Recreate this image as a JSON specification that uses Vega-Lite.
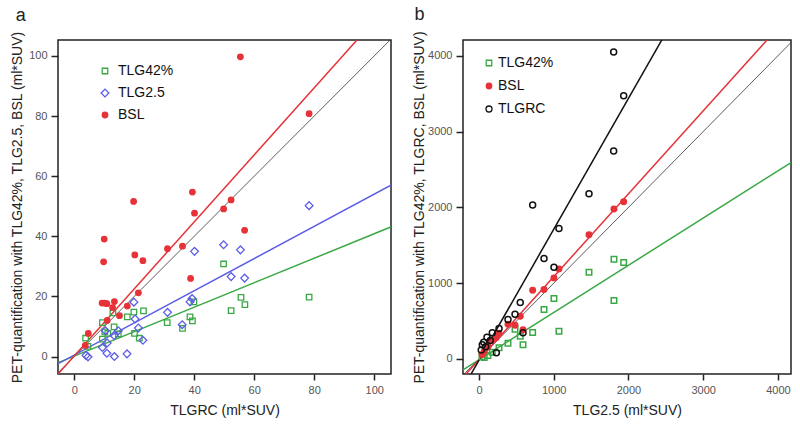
{
  "$schema": "https://vega.github.io/schema/vega-lite/v6.json",
  "padding": {"left": 9, "top": 5, "right": 5, "bottom": 5},
  "background": "white",
  "config": {
    "font": "Liberation Sans",
    "view": {"stroke": "#222", "strokeWidth": 1.5},
    "axis": {"grid": false, "domain": false, "tickColor": "#222", "tickWidth": 1.5, "tickSize": 6, "labelFontSize": 11, "labelColor": "#555", "labelFont": "Liberation Sans", "titleFont": "Liberation Sans", "titleFontSize": 14, "titleFontWeight": "normal", "titleColor": "#222", "labelPadding": 3},
    "legend": {"labelFontSize": 14, "labelColor": "#111", "labelFont": "Liberation Sans", "padding": 0, "rowPadding": 8, "labelOffset": 6, "symbolStrokeWidth": 1.3}
  },
  "datasets": {
    "a_pts": [
      {"x": 3.8, "y": 6.1, "series": "TLG42%"}, {"x": 4.6, "y": 3.4, "series": "TLG42%"}, {"x": 9.4, "y": 5.8, "series": "TLG42%"}, {"x": 9.4, "y": 11.3, "series": "TLG42%"}, {"x": 10.2, "y": 8.2, "series": "TLG42%"}, {"x": 11.2, "y": 7.7, "series": "TLG42%"}, {"x": 12.9, "y": 14.5, "series": "TLG42%"}, {"x": 13.3, "y": 9.9, "series": "TLG42%"}, {"x": 14.7, "y": 7.5, "series": "TLG42%"}, {"x": 17.7, "y": 13.2, "series": "TLG42%"}, {"x": 19.9, "y": 14.8, "series": "TLG42%"}, {"x": 20.1, "y": 7.7, "series": "TLG42%"}, {"x": 21.7, "y": 6.1, "series": "TLG42%"}, {"x": 23.1, "y": 15.2, "series": "TLG42%"}, {"x": 31.0, "y": 11.3, "series": "TLG42%"}, {"x": 36.1, "y": 9.4, "series": "TLG42%"}, {"x": 38.6, "y": 13.2, "series": "TLG42%"}, {"x": 39.4, "y": 11.9, "series": "TLG42%"}, {"x": 39.9, "y": 18.2, "series": "TLG42%"}, {"x": 49.8, "y": 30.8, "series": "TLG42%"}, {"x": 52.3, "y": 15.3, "series": "TLG42%"}, {"x": 55.6, "y": 19.7, "series": "TLG42%"}, {"x": 56.9, "y": 17.3, "series": "TLG42%"}, {"x": 78.3, "y": 19.8, "series": "TLG42%"},
      {"x": 3.9, "y": 0.4, "series": "TLG2.5"}, {"x": 4.6, "y": -0.1, "series": "TLG2.5"}, {"x": 9.4, "y": 3.0, "series": "TLG2.5"}, {"x": 10.4, "y": 8.6, "series": "TLG2.5"}, {"x": 10.9, "y": 1.1, "series": "TLG2.5"}, {"x": 11.0, "y": 4.5, "series": "TLG2.5"}, {"x": 13.3, "y": 7.0, "series": "TLG2.5"}, {"x": 13.4, "y": 0.0, "series": "TLG2.5"}, {"x": 14.7, "y": 8.6, "series": "TLG2.5"}, {"x": 17.6, "y": 0.9, "series": "TLG2.5"}, {"x": 19.9, "y": 18.1, "series": "TLG2.5"}, {"x": 20.3, "y": 12.5, "series": "TLG2.5"}, {"x": 21.4, "y": 9.5, "series": "TLG2.5"}, {"x": 22.9, "y": 5.4, "series": "TLG2.5"}, {"x": 31.1, "y": 14.7, "series": "TLG2.5"}, {"x": 36.0, "y": 10.6, "series": "TLG2.5"}, {"x": 38.6, "y": 18.2, "series": "TLG2.5"}, {"x": 39.3, "y": 19.3, "series": "TLG2.5"}, {"x": 40.1, "y": 35.0, "series": "TLG2.5"}, {"x": 49.8, "y": 37.2, "series": "TLG2.5"}, {"x": 52.3, "y": 26.6, "series": "TLG2.5"}, {"x": 55.4, "y": 35.5, "series": "TLG2.5"}, {"x": 56.8, "y": 26.1, "series": "TLG2.5"}, {"x": 78.3, "y": 50.2, "series": "TLG2.5"},
      {"x": 3.7, "y": 3.7, "series": "BSL"}, {"x": 4.7, "y": 7.7, "series": "BSL"}, {"x": 9.3, "y": 17.8, "series": "BSL"}, {"x": 10.1, "y": 17.8, "series": "BSL"}, {"x": 10.9, "y": 17.6, "series": "BSL"}, {"x": 9.8, "y": 31.5, "series": "BSL"}, {"x": 10.0, "y": 39.1, "series": "BSL"}, {"x": 11.0, "y": 12.0, "series": "BSL"}, {"x": 12.8, "y": 16.3, "series": "BSL"}, {"x": 13.4, "y": 18.3, "series": "BSL"}, {"x": 15.1, "y": 13.6, "series": "BSL"}, {"x": 17.7, "y": 16.8, "series": "BSL"}, {"x": 19.8, "y": 51.6, "series": "BSL"}, {"x": 20.2, "y": 33.8, "series": "BSL"}, {"x": 21.4, "y": 21.2, "series": "BSL"}, {"x": 22.9, "y": 31.9, "series": "BSL"}, {"x": 31.1, "y": 35.9, "series": "BSL"}, {"x": 36.1, "y": 36.7, "series": "BSL"}, {"x": 38.8, "y": 26.0, "series": "BSL"}, {"x": 39.4, "y": 54.7, "series": "BSL"}, {"x": 40.1, "y": 47.7, "series": "BSL"}, {"x": 49.8, "y": 49.1, "series": "BSL"}, {"x": 52.3, "y": 52.1, "series": "BSL"}, {"x": 55.4, "y": 99.7, "series": "BSL"}, {"x": 56.8, "y": 42.0, "series": "BSL"}, {"x": 78.3, "y": 80.8, "series": "BSL"}
    ],
    "a_lines": [
      {"x": -6, "y": -2.29, "series": "TLG42%"}, {"x": 106, "y": 43.29, "series": "TLG42%"},
      {"x": -6, "y": -2.71, "series": "TLG2.5"}, {"x": 106, "y": 57.21, "series": "TLG2.5"},
      {"x": -6, "y": -6.49, "series": "BSL"}, {"x": 106, "y": 118.39, "series": "BSL"}
    ],
    "a_id": [{"x": -6, "y": -6}, {"x": 106, "y": 106}],
    "b_pts": [
      {"x": 1806, "y": 1315, "series": "TLG42%"}, {"x": 1936, "y": 1272, "series": "TLG42%"}, {"x": 1806, "y": 771, "series": "TLG42%"}, {"x": 1472, "y": 1144, "series": "TLG42%"}, {"x": 1003, "y": 797, "series": "TLG42%"}, {"x": 870, "y": 652, "series": "TLG42%"}, {"x": 1070, "y": 366, "series": "TLG42%"}, {"x": 718, "y": 349, "series": "TLG42%"}, {"x": 482, "y": 393, "series": "TLG42%"}, {"x": 552, "y": 300, "series": "TLG42%"}, {"x": 388, "y": 208, "series": "TLG42%"}, {"x": 589, "y": 187, "series": "TLG42%"}, {"x": 268, "y": 148, "series": "TLG42%"}, {"x": 178, "y": 90, "series": "TLG42%"}, {"x": 120, "y": 46, "series": "TLG42%"}, {"x": 70, "y": 20, "series": "TLG42%"}, {"x": 40, "y": 30, "series": "TLG42%"},
      {"x": 1806, "y": 1979, "series": "BSL"}, {"x": 1936, "y": 2075, "series": "BSL"}, {"x": 1472, "y": 1640, "series": "BSL"}, {"x": 1070, "y": 1188, "series": "BSL"}, {"x": 1003, "y": 1070, "series": "BSL"}, {"x": 718, "y": 907, "series": "BSL"}, {"x": 870, "y": 916, "series": "BSL"}, {"x": 552, "y": 564, "series": "BSL"}, {"x": 482, "y": 445, "series": "BSL"}, {"x": 388, "y": 458, "series": "BSL"}, {"x": 589, "y": 385, "series": "BSL"}, {"x": 268, "y": 340, "series": "BSL"}, {"x": 230, "y": 280, "series": "BSL"}, {"x": 165, "y": 244, "series": "BSL"}, {"x": 120, "y": 160, "series": "BSL"}, {"x": 70, "y": 100, "series": "BSL"}, {"x": 40, "y": 60, "series": "BSL"},
      {"x": 1802, "y": 4051, "series": "TLGRC"}, {"x": 1936, "y": 3472, "series": "TLGRC"}, {"x": 1802, "y": 2743, "series": "TLGRC"}, {"x": 1472, "y": 2180, "series": "TLGRC"}, {"x": 718, "y": 2031, "series": "TLGRC"}, {"x": 1070, "y": 1723, "series": "TLGRC"}, {"x": 870, "y": 1324, "series": "TLGRC"}, {"x": 1003, "y": 1210, "series": "TLGRC"}, {"x": 552, "y": 744, "series": "TLGRC"}, {"x": 482, "y": 590, "series": "TLGRC"}, {"x": 388, "y": 520, "series": "TLGRC"}, {"x": 268, "y": 402, "series": "TLGRC"}, {"x": 178, "y": 345, "series": "TLGRC"}, {"x": 107, "y": 287, "series": "TLGRC"}, {"x": 63, "y": 221, "series": "TLGRC"}, {"x": 44, "y": 187, "series": "TLGRC"}, {"x": 589, "y": 345, "series": "TLGRC"}, {"x": 232, "y": 82, "series": "TLGRC"}, {"x": 151, "y": 244, "series": "TLGRC"}, {"x": 90, "y": 160, "series": "TLGRC"}, {"x": 30, "y": 120, "series": "TLGRC"}
    ],
    "b_lines": [
      {"x": -250, "y": -165.75, "series": "TLG42%"}, {"x": 4250, "y": 2637.75, "series": "TLG42%"},
      {"x": -250, "y": -282.5, "series": "BSL"}, {"x": 4250, "y": 4640.5, "series": "BSL"},
      {"x": -250, "y": -447.75, "series": "TLGRC"}, {"x": 4250, "y": 7323.75, "series": "TLGRC"}
    ],
    "b_id": [{"x": -250, "y": -250}, {"x": 4250, "y": 4250}]
  },
  "bounds": "flush",
  "spacing": 72,
  "resolve": {
    "scale": {"x": "independent", "y": "independent", "color": "independent", "stroke": "independent", "fill": "independent", "shape": "independent", "size": "independent"},
    "legend": {"color": "independent", "stroke": "independent", "fill": "independent", "shape": "independent", "size": "independent"}
  },
  "hconcat": [
    {
      "width": 333,
      "height": 334,
      "title": {"text": "a", "anchor": "start", "frame": "bounds", "fontSize": 18, "fontWeight": "normal", "color": "#222", "offset": 6, "dx": 5},
      "layer": [
        {
          "data": {"name": "a_id"},
          "mark": {"type": "line", "color": "#333", "strokeWidth": 0.8, "clip": true},
          "encoding": {
            "x": {"field": "x", "type": "quantitative", "scale": {"domain": [-5.4, 105.6], "nice": false, "zero": false}, "axis": {"values": [0, 20, 40, 60, 80, 100], "title": "TLGRC (ml*SUV)", "tickSize": 6, "labelPadding": 4, "titlePadding": 8}},
            "y": {"field": "y", "type": "quantitative", "scale": {"domain": [-5.8, 105.3], "nice": false, "zero": false}, "axis": {"values": [0, 20, 40, 60, 80, 100], "title": "PET-quantification with TLG42%, TLG2.5, BSL (ml*SUV)", "tickSize": 7, "labelPadding": 4, "titlePadding": 4}}
          }
        },
        {
          "data": {"name": "a_lines"},
          "mark": {"type": "line", "strokeWidth": 1.5, "clip": true},
          "encoding": {
            "x": {"field": "x", "type": "quantitative"},
            "y": {"field": "y", "type": "quantitative"},
            "detail": {"field": "series", "type": "nominal"},
            "color": {"field": "series", "type": "nominal", "scale": {"domain": ["BSL", "TLG2.5", "TLG42%"], "range": ["#e63238", "#5c5ce6", "#3aa845"]}, "legend": null}
          }
        },
        {
          "data": {"name": "a_pts"},
          "mark": {"type": "point", "opacity": 1, "strokeWidth": 1.3},
          "encoding": {
            "x": {"field": "x", "type": "quantitative"},
            "y": {"field": "y", "type": "quantitative"},
            "stroke": {"field": "series", "type": "nominal", "scale": {"domain": ["TLG42%", "TLG2.5", "BSL"], "range": ["#3aa845", "#5c5ce6", "#e63238"]}, "legend": {"orient": "none", "legendX": 40, "legendY": 24, "title": null, "labelOffset": 6, "rowPadding": 8}},
            "fill": {"field": "series", "type": "nominal", "scale": {"domain": ["TLG42%", "TLG2.5", "BSL"], "range": ["transparent", "transparent", "#e63238"]}},
            "shape": {"field": "series", "type": "nominal", "scale": {"domain": ["TLG42%", "TLG2.5", "BSL"], "range": ["square", "diamond", "circle"]}},
            "size": {"field": "series", "type": "nominal", "scale": {"type": "ordinal", "domain": ["TLG42%", "TLG2.5", "BSL"], "range": [30, 60, 30]}}
          }
        }
      ]
    },
    {
      "width": 328,
      "height": 334,
      "title": {"text": "b", "anchor": "start", "frame": "bounds", "fontSize": 18, "fontWeight": "normal", "color": "#222", "offset": 6, "dx": 2},
      "layer": [
        {
          "data": {"name": "b_id"},
          "mark": {"type": "line", "color": "#333", "strokeWidth": 0.8, "clip": true},
          "encoding": {
            "x": {"field": "x", "type": "quantitative", "scale": {"domain": [-214, 4175], "nice": false, "zero": false}, "axis": {"values": [0, 1000, 2000, 3000, 4000], "format": "d", "title": "TLG2.5 (ml*SUV)", "tickSize": 6, "labelPadding": 4, "titlePadding": 8}},
            "y": {"field": "y", "type": "quantitative", "scale": {"domain": [-198, 4208], "nice": false, "zero": false}, "axis": {"values": [0, 1000, 2000, 3000, 4000], "format": "d", "title": "PET-quantification with TLG42%, TLGRC, BSL (ml*SUV)", "tickSize": 7, "labelPadding": 4, "titlePadding": 1}}
          }
        },
        {
          "data": {"name": "b_lines"},
          "mark": {"type": "line", "strokeWidth": 1.5, "clip": true},
          "encoding": {
            "x": {"field": "x", "type": "quantitative"},
            "y": {"field": "y", "type": "quantitative"},
            "detail": {"field": "series", "type": "nominal"},
            "color": {"field": "series", "type": "nominal", "scale": {"domain": ["BSL", "TLG42%", "TLGRC"], "range": ["#e63238", "#3aa845", "#111111"]}, "legend": null}
          }
        },
        {
          "data": {"name": "b_pts"},
          "mark": {"type": "point", "opacity": 1, "strokeWidth": 1.5},
          "encoding": {
            "x": {"field": "x", "type": "quantitative"},
            "y": {"field": "y", "type": "quantitative"},
            "stroke": {"field": "series", "type": "nominal", "scale": {"domain": ["TLG42%", "BSL", "TLGRC"], "range": ["#3aa845", "#e63238", "#111111"]}, "legend": {"orient": "none", "legendX": 19, "legendY": 16, "title": null, "labelOffset": 2, "rowPadding": 9}},
            "fill": {"field": "series", "type": "nominal", "scale": {"domain": ["TLG42%", "BSL", "TLGRC"], "range": ["transparent", "#e63238", "transparent"]}},
            "shape": {"field": "series", "type": "nominal", "scale": {"domain": ["TLG42%", "BSL", "TLGRC"], "range": ["square", "circle", "circle"]}},
            "size": {"field": "series", "type": "nominal", "scale": {"type": "ordinal", "domain": ["TLG42%", "BSL", "TLGRC"], "range": [30, 30, 36]}}
          }
        }
      ]
    }
  ]
}
